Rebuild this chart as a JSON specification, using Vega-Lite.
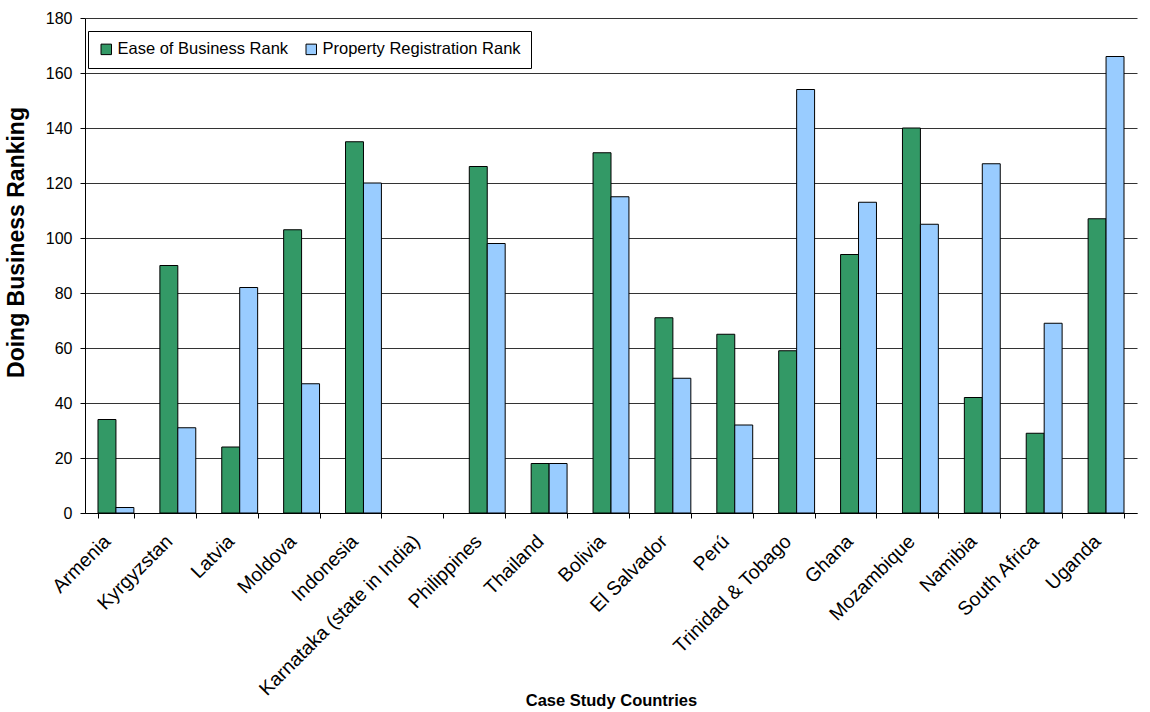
{
  "$schema": "https://vega.github.io/schema/vega-lite/v6.json",
  "autosize": {"type": "none"},
  "width": 1052,
  "height": 495,
  "padding": {"left": 85, "top": 18, "right": 13, "bottom": 199},
  "background": "white",
  "config": {
    "font": "Liberation Sans",
    "view": {"stroke": null}
  },
  "data": {
    "values": [
      {"country": "Armenia", "series": "Ease of Business Rank", "rank": 34},
      {"country": "Armenia", "series": "Property Registration Rank", "rank": 2},
      {"country": "Kyrgyzstan", "series": "Ease of Business Rank", "rank": 90},
      {"country": "Kyrgyzstan", "series": "Property Registration Rank", "rank": 31},
      {"country": "Latvia", "series": "Ease of Business Rank", "rank": 24},
      {"country": "Latvia", "series": "Property Registration Rank", "rank": 82},
      {"country": "Moldova", "series": "Ease of Business Rank", "rank": 103},
      {"country": "Moldova", "series": "Property Registration Rank", "rank": 47},
      {"country": "Indonesia", "series": "Ease of Business Rank", "rank": 135},
      {"country": "Indonesia", "series": "Property Registration Rank", "rank": 120},
      {"country": "Philippines", "series": "Ease of Business Rank", "rank": 126},
      {"country": "Philippines", "series": "Property Registration Rank", "rank": 98},
      {"country": "Thailand", "series": "Ease of Business Rank", "rank": 18},
      {"country": "Thailand", "series": "Property Registration Rank", "rank": 18},
      {"country": "Bolivia", "series": "Ease of Business Rank", "rank": 131},
      {"country": "Bolivia", "series": "Property Registration Rank", "rank": 115},
      {"country": "El Salvador", "series": "Ease of Business Rank", "rank": 71},
      {"country": "El Salvador", "series": "Property Registration Rank", "rank": 49},
      {"country": "Perú", "series": "Ease of Business Rank", "rank": 65},
      {"country": "Perú", "series": "Property Registration Rank", "rank": 32},
      {"country": "Trinidad & Tobago", "series": "Ease of Business Rank", "rank": 59},
      {"country": "Trinidad & Tobago", "series": "Property Registration Rank", "rank": 154},
      {"country": "Ghana", "series": "Ease of Business Rank", "rank": 94},
      {"country": "Ghana", "series": "Property Registration Rank", "rank": 113},
      {"country": "Mozambique", "series": "Ease of Business Rank", "rank": 140},
      {"country": "Mozambique", "series": "Property Registration Rank", "rank": 105},
      {"country": "Namibia", "series": "Ease of Business Rank", "rank": 42},
      {"country": "Namibia", "series": "Property Registration Rank", "rank": 127},
      {"country": "South Africa", "series": "Ease of Business Rank", "rank": 29},
      {"country": "South Africa", "series": "Property Registration Rank", "rank": 69},
      {"country": "Uganda", "series": "Ease of Business Rank", "rank": 107},
      {"country": "Uganda", "series": "Property Registration Rank", "rank": 166}
    ]
  },
  "mark": {"type": "bar", "stroke": "black", "strokeWidth": 1},
  "encoding": {
    "x": {
      "field": "country",
      "type": "nominal",
      "scale": {
        "domain": ["Armenia", "Kyrgyzstan", "Latvia", "Moldova", "Indonesia", "Karnataka (state in India)", "Philippines", "Thailand", "Bolivia", "El Salvador", "Perú", "Trinidad & Tobago", "Ghana", "Mozambique", "Namibia", "South Africa", "Uganda"],
        "paddingInner": 0.42,
        "paddingOuter": 0.21
      },
      "axis": {
        "title": "Case Study Countries",
        "titleFontSize": 16.5,
        "titleFontWeight": "bold",
        "titleColor": "black",
        "titleBaseline": "alphabetic",
        "titleY": 192,
        "labelAngle": -45,
        "labelAlign": "right",
        "labelBaseline": "middle",
        "labelFontSize": 19.5,
        "labelColor": "black",
        "labelPadding": 20,
        "labelOffset": -9,
        "labelLimit": 400,
        "tickBand": "extent",
        "tickColor": "black",
        "tickSize": 5,
        "domainColor": "black",
        "grid": false
      }
    },
    "xOffset": {
      "field": "series",
      "type": "nominal",
      "sort": ["Ease of Business Rank", "Property Registration Rank"],
      "scale": {"paddingInner": 0, "paddingOuter": 0}
    },
    "y": {
      "field": "rank",
      "type": "quantitative",
      "scale": {"domain": [0, 180], "nice": false},
      "axis": {
        "title": "Doing Business Ranking",
        "titleFontSize": 23,
        "titleFontWeight": "bold",
        "titleColor": "black",
        "titleBaseline": "alphabetic",
        "titleAngle": -90,
        "titleX": -62,
        "titleY": 224,
        "values": [0, 20, 40, 60, 80, 100, 120, 140, 160, 180],
        "labelFontSize": 16,
        "labelColor": "black",
        "labelPadding": 8,
        "tickColor": "black",
        "tickSize": 5,
        "domainColor": "black",
        "grid": true,
        "gridColor": "#333333",
        "gridWidth": 1
      }
    },
    "color": {
      "field": "series",
      "type": "nominal",
      "scale": {
        "domain": ["Ease of Business Rank", "Property Registration Rank"],
        "range": ["#339966", "#99CCFF"]
      },
      "legend": {
        "title": null,
        "orient": "none",
        "legendX": 3,
        "legendY": 13,
        "direction": "horizontal",
        "symbolType": "square",
        "symbolSize": 110,
        "symbolStrokeColor": "black",
        "symbolStrokeWidth": 1,
        "symbolOpacity": 1,
        "labelFontSize": 16.5,
        "labelColor": "black",
        "labelOffset": 3,
        "labelLimit": 400,
        "columnPadding": 14,
        "padding": 10,
        "strokeColor": "black",
        "fillColor": "white"
      }
    }
  }
}
